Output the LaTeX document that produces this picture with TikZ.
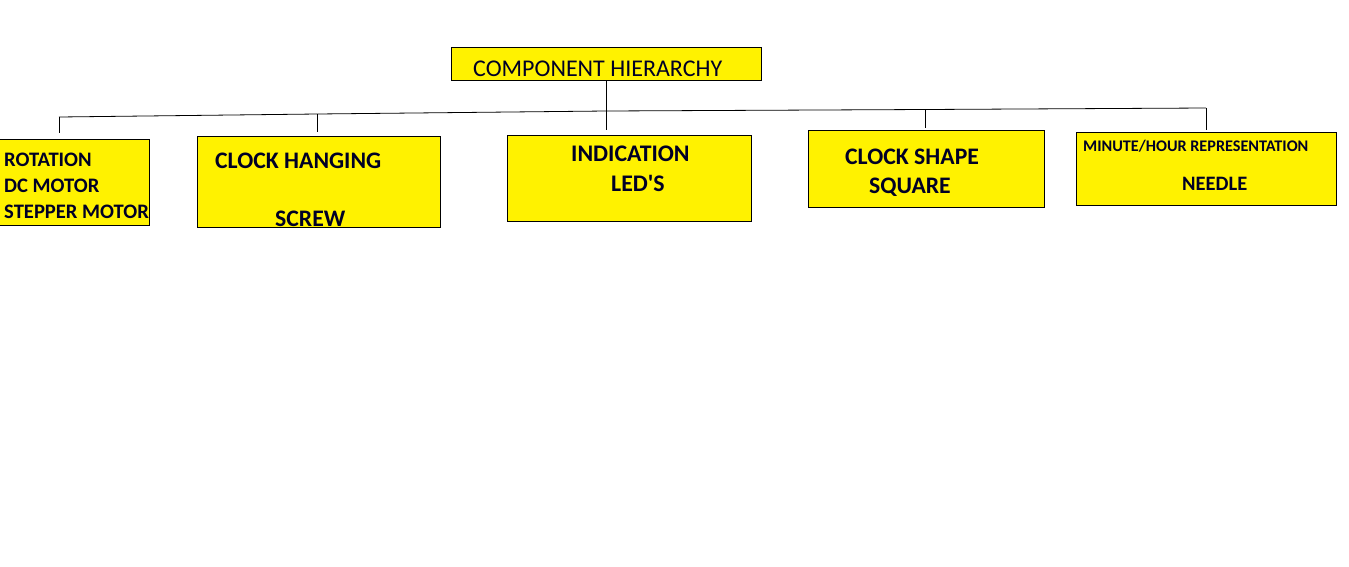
\documentclass[tikz,border=0pt]{standalone}
\usepackage{fontspec}
\setmainfont{Carlito}
\usetikzlibrary{positioning}
\definecolor{boxyellow}{RGB}{255,242,0}

\tikzset{
  comp/.style={draw=black, fill=boxyellow, line width=0.8pt, inner sep=0pt},
  lbl/.style={anchor=base west, inner sep=0pt, text=black!85!blue},
  bus/.style={draw=black, line width=0.8pt},
}

\begin{document}
\begin{tikzpicture}[x=1pt, y=-1pt]
  \useasboundingbox[fill=white] (0,0) rectangle (1349,566);

  % boxes
  \node[comp, minimum width=310pt, minimum height=33pt] (top)   at (606,63.5)  {};
  \node[comp, minimum width=150pt, minimum height=86pt] (rot)   at (74,182)    {};
  \node[comp, minimum width=243pt, minimum height=91pt] (hang)  at (318.5,181.5) {};
  \node[comp, minimum width=244pt, minimum height=86pt] (ind)   at (629,178)   {};
  \node[comp, minimum width=236pt, minimum height=77pt] (shape) at (926,168.5) {};
  \node[comp, minimum width=260pt, minimum height=73pt] (need)  at (1206,168.5) {};

  % texts
  \node[lbl, font=\fontsize{24}{24}\selectfont] (ttop) at (473,76.5) {COMPONENT HIERARCHY};

  \node[lbl, font=\bfseries\fontsize{20.6}{20.6}\selectfont] (trot1) at (4,166) {ROTATION};
  \node[lbl, font=\bfseries\fontsize{20.6}{20.6}\selectfont] (trot2) at (4,192) {DC MOTOR};
  \node[lbl, font=\bfseries\fontsize{20.6}{20.6}\selectfont] (trot3) at (4,218) {STEPPER MOTOR};

  \node[lbl, font=\bfseries\fontsize{23.7}{23.7}\selectfont] (thang1) at (215,168.5) {CLOCK HANGING};
  \node[lbl, font=\bfseries\fontsize{23.7}{23.7}\selectfont] (thang2) at (275,226.5) {SCREW};

  \node[lbl, font=\bfseries\fontsize{23.8}{23.8}\selectfont] (tind1) at (571,161.5) {INDICATION};
  \node[lbl, font=\bfseries\fontsize{23.8}{23.8}\selectfont] (tind2) at (611,191.5) {LED\textquotesingle S};

  \node[lbl, font=\bfseries\fontsize{23.7}{23.7}\selectfont] (tshape1) at (845,164) {CLOCK SHAPE};
  \node[lbl, font=\bfseries\fontsize{23.7}{23.7}\selectfont] (tshape2) at (869,193) {SQUARE};

  \node[lbl, font=\bfseries\fontsize{16.2}{16.2}\selectfont] (tneed1) at (1083,151) {MINUTE/HOUR REPRESENTATION};
  \node[lbl, font=\bfseries\fontsize{20.5}{20.5}\selectfont] (tneed2) at (1182,190.5) {NEEDLE};

  % bus line
  \coordinate (j1) at (59,117);
  \coordinate (j2) at (317,114);
  \coordinate (j3) at (606,111);
  \coordinate (j4) at (925,109.5);
  \coordinate (j5) at (1206,108);

  \draw[bus] (j1) -- (j2) -- (j3) -- (j4) -- (j5);
  \draw[bus] (top.south) -- (j3);

  \draw[bus, shorten >=6pt] (j1) -- (j1 |- rot.north);
  \draw[bus, shorten >=4pt] (j2) -- (j2 |- hang.north);
  \draw[bus, shorten >=5pt] (j3) -- (j3 |- ind.north);
  \draw[bus, shorten >=2pt] (j4) -- (j4 |- shape.north);
  \draw[bus, shorten >=2pt] (j5) -- (j5 |- need.north);

\end{tikzpicture}
\end{document}
